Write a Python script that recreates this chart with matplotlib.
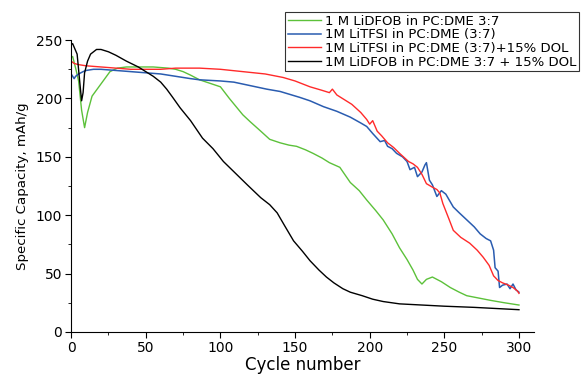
import matplotlib.pyplot as plt
from matplotlib.ticker import MultipleLocator

plt.rcParams['font.family'] = ['DejaVu Sans']

# cycle number / specific capacity (mAh/g)
green_c = [0, 1, 3, 5, 7, 9, 11, 14, 18, 22, 26, 31, 37, 45, 55, 65, 70, 75, 80, 86, 93, 100,
           106, 115, 120, 127, 133, 140, 146, 151, 157, 162, 168, 173, 180, 187, 193, 198,
           204, 209, 215, 220, 225, 229, 232, 235, 238, 242, 248, 254, 260, 265, 273, 281,
           290, 300]
green_v = [235, 236, 226, 215, 190, 175, 188, 202, 209, 216, 223, 226, 227, 227, 227, 226,
           225, 223, 220, 216, 213, 210, 200, 186, 180, 172, 165, 162, 160, 159, 156, 153,
           149, 145, 141, 128, 121, 113, 104, 96, 84, 72, 62, 53, 45, 41, 45, 47, 43, 38,
           34, 31, 29, 27, 25, 23]

blue_c = [0, 1, 2, 3, 5, 8, 10, 15, 20, 30, 40, 50, 60, 70, 80, 86, 100, 109, 120, 131,
          140, 153, 160, 169, 178, 187, 194, 198, 202, 207, 210, 212, 215, 218, 222, 225,
          227, 230, 232, 235, 237, 238, 240, 242, 245, 248, 251, 256, 260, 265, 270, 274,
          278, 281, 283, 284, 286, 287, 289, 292, 294, 296, 298, 300]
blue_v = [221, 219, 217, 219, 221, 223, 224, 225, 225, 224, 223, 222, 221, 219, 217, 216,
          215, 214, 211, 208, 206, 201, 198, 193, 189, 184, 179, 176, 170, 163, 164, 159,
          157, 153, 150, 146, 139, 141, 133, 137, 143, 145, 130, 126, 116, 121, 118, 107,
          102, 96, 90, 84, 80, 78, 70, 55, 52, 38, 40, 41, 37, 41, 36, 34]

red_c = [0, 2, 5, 10, 20, 30, 40, 50, 60, 70, 86, 100, 115, 130, 142, 150, 160, 168, 173,
         175, 178, 183, 188, 194, 198, 200, 202, 205, 208, 212, 216, 220, 226, 229, 232, 235,
         238, 242, 245, 247, 249, 253, 256, 261, 267, 272, 276, 280, 283, 286, 289, 293, 296,
         299, 300]
red_v = [232, 230, 229, 228, 227, 226, 225, 225, 225, 226, 226, 225, 223, 221, 218, 215, 210,
         207, 205, 208, 203, 199, 195, 188, 182, 178, 181, 172, 168, 162, 158, 153, 146, 144,
         141, 135, 127, 124, 122, 119, 110, 97, 87, 81, 76, 70, 64, 57, 48, 44, 42, 40, 38,
         35, 33]

black_c = [0, 1, 2, 4, 6, 7, 8, 9, 11, 13, 17, 20, 25, 30, 37, 45, 50, 55, 60, 64, 68, 73,
           80, 88, 95, 102, 110, 118, 127, 133, 138, 143, 149, 155, 160, 166, 171, 176, 182,
           187, 195, 202, 209, 220, 235, 250, 270, 285, 300]
black_v = [246, 247, 244, 238, 211, 198, 205, 222, 232, 238, 242, 242, 240, 237, 232, 227,
           223, 219, 214, 208, 201, 192, 181, 166, 157, 146, 136, 126, 115, 109, 102, 91, 78,
           69, 61, 53, 47, 42, 37, 34, 31, 28, 26, 24, 23, 22, 21, 20, 19]

labels = ['1 M LiDFOB in PC:DME 3:7',
          '1M LiTFSI in PC:DME (3:7)',
          '1M LiTFSI in PC:DME (3:7)+15% DOL',
          '1M LiDFOB in PC:DME 3:7 + 15% DOL']

fig = plt.figure(figsize=(5.88, 3.75), dpi=100)
ax = fig.add_axes([0.121, 0.115, 0.787, 0.778])

ax.plot(green_c, green_v, color='#5cc13a', lw=1.0, label=labels[0])
ax.plot(blue_c, blue_v, color='#2a5cb0', lw=1.1, label=labels[1])
ax.plot(red_c, red_v, color='#ff2a2a', lw=1.0, label=labels[2])
ax.plot(black_c, black_v, color='black', lw=1.0, label=labels[3])

ax.set_xlim(0, 310)
ax.set_ylim(0, 250)
ax.xaxis.set_major_locator(MultipleLocator(50))
ax.xaxis.set_minor_locator(MultipleLocator(25))
ax.yaxis.set_major_locator(MultipleLocator(50))
ax.yaxis.set_minor_locator(MultipleLocator(25))
ax.spines['top'].set_visible(False)
ax.spines['right'].set_visible(False)
ax.tick_params(which='major', length=4, labelsize=10, pad=2.5)
ax.tick_params(which='minor', length=2)
ax.set_xlabel('Cycle number', fontsize=12, labelpad=1)
ax.set_ylabel('Specific Capacity, mAh/g', fontsize=9.6, labelpad=5)

leg = ax.legend(loc='upper left', bbox_to_anchor=(285 / 588, 1 - 12 / 375),
                bbox_transform=fig.transFigure, fontsize=9.5, frameon=True,
                fancybox=False, edgecolor='black', handlelength=2.5,
                handletextpad=0.3, labelspacing=0.05, borderpad=0.2,
                borderaxespad=0)
leg.get_frame().set_linewidth(0.8)

fig.savefig('out.png', dpi=100)
